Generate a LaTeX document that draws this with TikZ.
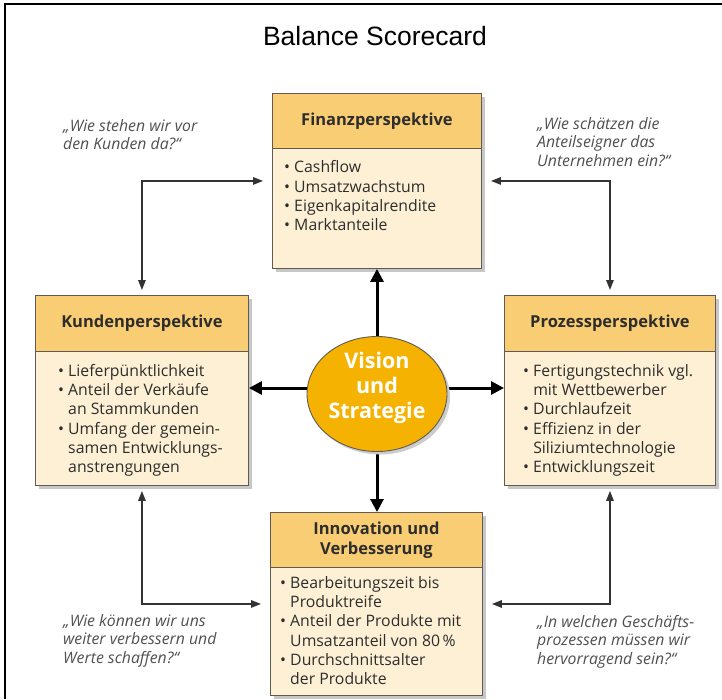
\documentclass[tikz,border=0pt]{standalone}
\usepackage{fontspec}
\setmainfont{Open Sans}
\newfontfamily\titlefont{Liberation Sans}
\usetikzlibrary{arrows.meta,shapes.geometric,shadows}
\definecolor{hdrfill}{RGB}{249,205,115}
\definecolor{bdyfill}{RGB}{254,240,212}
\definecolor{circfill}{RGB}{245,178,0}
\definecolor{edgecol}{RGB}{95,90,85}
\definecolor{qgray}{RGB}{80,80,80}
\definecolor{tgray}{RGB}{45,45,45}
\begin{document}
\begin{tikzpicture}[x=1pt,y=-1pt,
  boxbody/.style={draw=edgecol, line width=0.9pt, fill=bdyfill, anchor=north west, inner sep=0pt,
    drop shadow={shadow xshift=4pt, shadow yshift=-4pt, fill=black!22, opacity=1}},
  boxhead/.style={draw=edgecol, line width=0.9pt, fill=hdrfill, anchor=north west, inner sep=0pt},
  headtext/.style={font=\fontsize{16.5}{20}\selectfont\bfseries, text=tgray, align=center, inner sep=0pt},
  bodytext/.style={font=\fontsize{15.8}{19.3}\selectfont, text=tgray, align=left, anchor=north west, inner sep=0pt},
  quote/.style={font=\fontsize{15.8}{18.5}\selectfont\itshape, text=qgray, align=left, anchor=north west, inner sep=0pt},
  bigarrow/.style={line width=3pt, -{Triangle[length=13pt,width=13pt]}},
  cornerarrow/.style={draw=black!80, line width=1.4pt, {Triangle[length=10pt,width=7.5pt]}-{Triangle[length=10pt,width=7.5pt]}, shorten <=5pt, shorten >=9pt},
]
\useasboundingbox (0,0) rectangle (722,699);
\fill[white] (0,0) rectangle (722,699);
\draw[line width=1.5pt] (5,699) -- (5,4) -- (722,4);

\node[font=\titlefont\fontsize{26.5}{30}\selectfont] (title) at (375,36) {Balance Scorecard};

% boxes
\node[boxbody, minimum width=209pt, minimum height=175pt] (fin) at (272,93) {};
\node[boxhead, minimum width=209pt, minimum height=55pt] (finh) at (272,93) {};
\node[boxbody, minimum width=213pt, minimum height=190pt] (kun) at (35,295) {};
\node[boxhead, minimum width=213pt, minimum height=56pt] (kunh) at (35,295) {};
\node[boxbody, minimum width=211pt, minimum height=190pt] (pro) at (504,295) {};
\node[boxhead, minimum width=211pt, minimum height=56pt] (proh) at (504,295) {};
\node[boxbody, minimum width=212pt, minimum height=183pt] (inn) at (270,512) {};
\node[boxhead, minimum width=212pt, minimum height=55pt] (innh) at (270,512) {};

\node[headtext] (fint) at (finh.center) {Finanzperspektive};
\node[headtext] (kunt) at (kunh.center) {Kundenperspektive};
\node[headtext] (prot) at (proh.center) {Prozessperspektive};
\node[headtext] (innt) at (innh.center) {Innovation und\\Verbesserung};

\node[bodytext] (finb) at (284,160.5) {•\ Cashflow\\•\ Umsatzwachstum\\•\ Eigenkapitalrendite\\•\ Marktanteile};
\node[bodytext] (kunb) at (58,364) {•\ Lieferpünktlichkeit\\•\ Anteil der Verkäufe\\\phantom{•\ }an Stammkunden\\•\ Umfang der gemein-\\\phantom{•\ }samen Entwicklungs-\\\phantom{•\ }anstrengungen};
\node[bodytext] (prob) at (523,364) {•\ Fertigungstechnik vgl.\\\phantom{•\ }mit Wettbewerber\\•\ Durchlaufzeit\\•\ Effizienz in der\\\phantom{•\ }Siliziumtechnologie\\•\ Entwicklungszeit};
\node[bodytext] (innb) at (280,576) {•\ Bearbeitungszeit bis\\\phantom{•\ }Produktreife\\•\ Anteil der Produkte mit\\\phantom{•\ }Umsatzanteil von 80\,\%\\•\ Durchschnittsalter\\\phantom{•\ }der Produkte};

% quotes
\node[quote] (q1) at (63,119) {„Wie stehen wir vor\\den Kunden da?“};
\node[quote] (q2) at (537,117) {„Wie schätzen die\\Anteilseigner das\\Unternehmen ein?“};
\node[quote] (q3) at (63,614) {„Wie können wir uns\\weiter verbessern und\\Werte schaffen?“};
\node[quote] (q4) at (537,615) {„In welchen Geschäfts-\\prozessen müssen wir\\hervorragend sein?“};

% corner connectors
\draw[cornerarrow] (kun.north) |- (fin.west);
\draw[cornerarrow] (pro.north) |- (fin.east);
\draw[cornerarrow] (kun.south) |- (inn.west);
\draw[cornerarrow] (pro.south) |- (inn.east);

% centre
\coordinate (cc) at (377,388);
\draw[bigarrow] (cc) -- (cc -| kun.east);
\draw[bigarrow] (cc) -- (cc -| pro.west);
\draw[bigarrow] (cc) -- (cc |- fin.south);
\draw[bigarrow] (cc) -- (cc |- inn.north);
\node[ellipse, draw=edgecol, line width=0.9pt, fill=circfill, minimum width=140pt, minimum height=115pt,
  drop shadow={shadow xshift=3pt, shadow yshift=-3pt, fill=black!20, opacity=1}] (circ) at (377,394) {};
\node[font=\fontsize{21.5}{25}\selectfont\bfseries, text=white, align=center, inner sep=0pt] (circt) at (cc) {Vision\\und\\Strategie};
\end{tikzpicture}
\end{document}
